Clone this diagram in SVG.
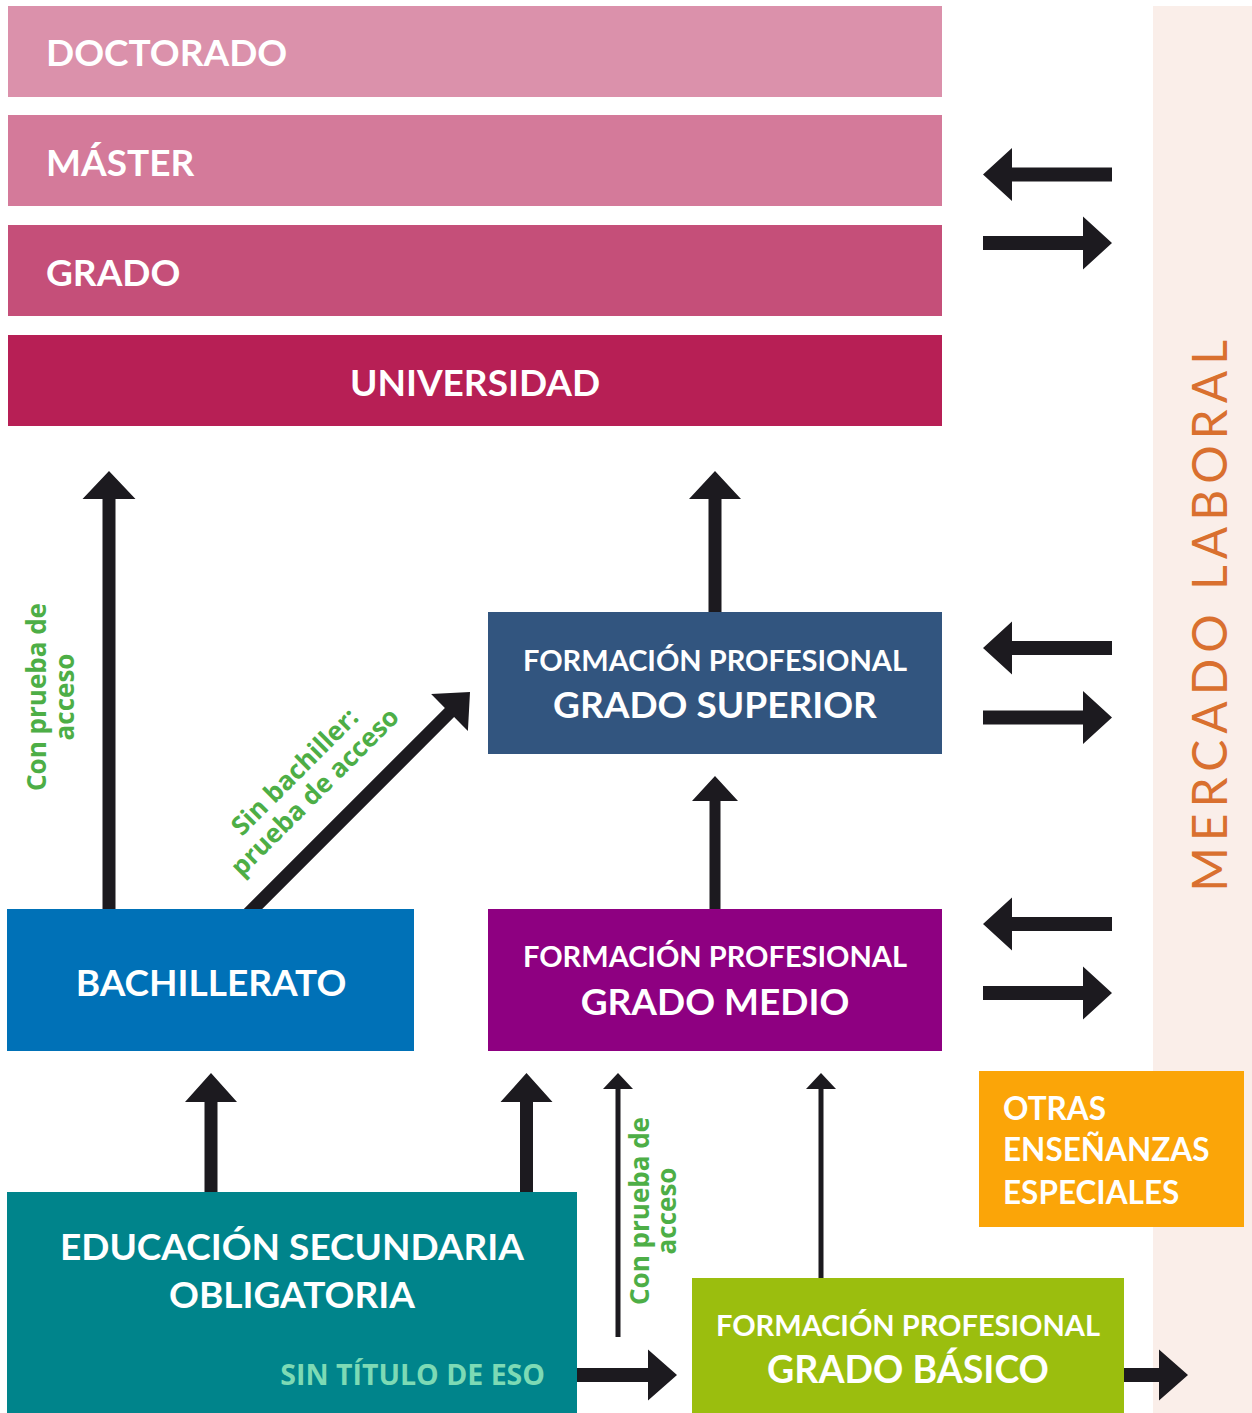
<svg xmlns="http://www.w3.org/2000/svg" width="1252" height="1413" viewBox="0 0 1252 1413">
<style>
.t{font-family:Lato,"Liberation Sans",sans-serif;font-weight:700;fill:#ffffff}
.g{font-family:"Open Sans","Liberation Sans",sans-serif;font-weight:700;fill:#4DAE46;font-size:26px}
.arr{fill:#1C1A1F}
</style>
<rect x="0" y="0" width="1252" height="1413" fill="#ffffff"/>
<g id="mercado">
<rect x="1153" y="6" width="99" height="1407" fill="#FAEEE9"/>
<text transform="translate(1227,613) rotate(-90)" text-anchor="middle" font-family="Lato,'Liberation Sans',sans-serif" font-size="48" letter-spacing="6" fill="#D9702F">MERCADO LABORAL</text>
</g>
<g id="connectors">
<polygon class="arr" points="102.5,909 102.5,499 82.5,499 109,471 135.5,499 115.5,499 115.5,909"/>
<polygon class="arr" points="708.5,612 708.5,499 689,499 715,471 741,499 721.5,499 721.5,612"/>
<polygon class="arr" points="709.5,909 709.5,801 692,801 715,776 738,801 720.5,801 720.5,909"/>
<polygon class="arr" points="204.5,1192 204.5,1102 185,1102 211,1073 237,1102 217.5,1102 217.5,1192"/>
<polygon class="arr" points="520,1192 520,1102 500.5,1102 526.5,1073 552.5,1102 533,1102 533,1192"/>
<polygon class="arr" points="615.5,1337 615.5,1089 603,1089 618,1073 633,1089 620.5,1089 620.5,1337"/>
<polygon class="arr" points="818.5,1278 818.5,1089 806,1089 821,1073 836,1089 823.5,1089 823.5,1278"/>
<polygon class="arr" points="243.8,909 444.9,707.9 431.1,694.1 470,692 467.9,730.9 454.1,717.1 262.2,909"/>
<polygon class="arr" points="577,1368 648,1368 648,1349.5 677,1375 648,1400.5 648,1382 577,1382"/>
<polygon class="arr" points="1124,1368 1159,1368 1159,1349.5 1188,1375 1159,1400.5 1159,1382 1124,1382"/>
<polygon class="arr" points="1112,167.5 1012,167.5 1012,148 983,174.5 1012,201 1012,181.5 1112,181.5"/>
<polygon class="arr" points="983,236 1083,236 1083,216.5 1112,243 1083,269.5 1083,250 983,250"/>
<polygon class="arr" points="1112,641 1012,641 1012,621.5 983,648 1012,674.5 1012,655 1112,655"/>
<polygon class="arr" points="983,710.5 1083,710.5 1083,691 1112,717.5 1083,744 1083,724.5 983,724.5"/>
<polygon class="arr" points="1112,917 1012,917 1012,897.5 983,924 1012,950.5 1012,931 1112,931"/>
<polygon class="arr" points="983,986 1083,986 1083,966.5 1112,993 1083,1019.5 1083,1000 983,1000"/>
<text class="g" transform="translate(46,697) rotate(-90)" text-anchor="middle"><tspan x="0" y="0">Con prueba de</tspan><tspan x="0" y="27.5">acceso</tspan></text>
<text class="g" transform="translate(648.5,1211) rotate(-90)" text-anchor="middle"><tspan x="0" y="0">Con prueba de</tspan><tspan x="0" y="27.5">acceso</tspan></text>
<text class="g" transform="translate(301,778) rotate(-45)" text-anchor="middle"><tspan x="0" y="0">Sin bachiller:</tspan><tspan x="0" y="28.5">prueba de acceso</tspan></text>
</g>
<g id="doctorado">
<rect x="8" y="6" width="934" height="91" fill="#DB91AB"/>
<text class="t" x="46" y="66" font-size="37">DOCTORADO</text>
</g>
<g id="master">
<rect x="8" y="115" width="934" height="91" fill="#D47A9A"/>
<text class="t" x="46" y="176" font-size="37">MÁSTER</text>
</g>
<g id="grado">
<rect x="8" y="225" width="934" height="91" fill="#C54F79"/>
<text class="t" x="46" y="286" font-size="37">GRADO</text>
</g>
<g id="universidad">
<rect x="8" y="335" width="934" height="91" fill="#B71F55"/>
<text class="t" x="475" y="396" font-size="37" text-anchor="middle">UNIVERSIDAD</text>
</g>
<g id="fp-superior">
<rect x="488" y="612" width="454" height="142" fill="#32557F"/>
<text class="t" x="715" y="671" font-size="29" text-anchor="middle">FORMACIÓN PROFESIONAL</text>
<text class="t" x="715" y="718" font-size="37" text-anchor="middle">GRADO SUPERIOR</text>
</g>
<g id="bachillerato">
<rect x="7" y="909" width="407" height="142" fill="#0071B7"/>
<text class="t" x="211" y="996" font-size="37" text-anchor="middle">BACHILLERATO</text>
</g>
<g id="fp-medio">
<rect x="488" y="909" width="454" height="142" fill="#8E0081"/>
<text class="t" x="715" y="967" font-size="29" text-anchor="middle">FORMACIÓN PROFESIONAL</text>
<text class="t" x="715" y="1015" font-size="37" text-anchor="middle">GRADO MEDIO</text>
</g>
<g id="eso">
<rect x="7" y="1192" width="570" height="221" fill="#00848B"/>
<text class="t" x="292" y="1260" font-size="37" text-anchor="middle">EDUCACIÓN SECUNDARIA</text>
<text class="t" x="292" y="1308" font-size="37" text-anchor="middle">OBLIGATORIA</text>
<text x="545" y="1385" font-family="'Open Sans','Liberation Sans',sans-serif" font-weight="700" font-size="28.5" fill="#7DDAB5" text-anchor="end">SIN TÍTULO DE ESO</text>
</g>
<g id="fp-basico">
<rect x="692" y="1278" width="432" height="135" fill="#9BBE0E"/>
<text class="t" x="908" y="1336" font-size="29" text-anchor="middle">FORMACIÓN PROFESIONAL</text>
<text class="t" x="908" y="1383" font-size="37.5" text-anchor="middle">GRADO BÁSICO</text>
</g>
<g id="otras">
<rect x="979" y="1071" width="265" height="156" fill="#FBA508"/>
<text class="t" x="1003" y="1120" font-size="31.5">OTRAS</text>
<text class="t" x="1003" y="1161" font-size="31.5">ENSEÑANZAS</text>
<text class="t" x="1003" y="1204" font-size="31.5">ESPECIALES</text>
</g>
</svg>
